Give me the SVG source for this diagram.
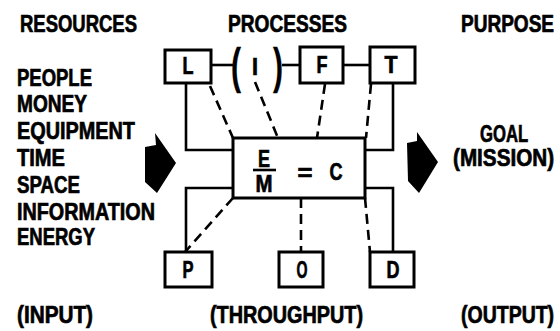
<svg xmlns="http://www.w3.org/2000/svg" width="560" height="331" viewBox="0 0 560 331">
<style>
text{font-family:"Liberation Sans",Arial,sans-serif;font-weight:bold;fill:#000;stroke:#000;stroke-width:0.7;font-size:23.5px}
.box{fill:#fff;stroke:#000;stroke-width:3}
.ln{fill:none;stroke:#000;stroke-width:2.6}
.ds{fill:none;stroke:#000;stroke-width:2.6;stroke-dasharray:10 6}
.c{text-anchor:middle}
.par{font-size:50px;stroke-width:0.3}
</style>
<rect width="560" height="331" fill="#fff"/>
<g id="headers">
<text x="20" y="32" textLength="117" lengthAdjust="spacingAndGlyphs">RESOURCES</text>
<text x="228" y="32" textLength="119" lengthAdjust="spacingAndGlyphs">PROCESSES</text>
<text transform="translate(461,32) scale(0.81,1)">PURPOSE</text>
</g>
<g id="resources">
<text x="17" y="86" textLength="75" lengthAdjust="spacingAndGlyphs">PEOPLE</text>
<text x="17" y="112" textLength="70" lengthAdjust="spacingAndGlyphs">MONEY</text>
<text x="17" y="139" textLength="118" lengthAdjust="spacingAndGlyphs">EQUIPMENT</text>
<text x="17" y="166" textLength="48" lengthAdjust="spacingAndGlyphs">TIME</text>
<text x="17" y="193" textLength="63" lengthAdjust="spacingAndGlyphs">SPACE</text>
<text x="17" y="220" textLength="138" lengthAdjust="spacingAndGlyphs">INFORMATION</text>
<text x="17" y="245" textLength="78" lengthAdjust="spacingAndGlyphs">ENERGY</text>
</g>
<g id="purpose">
<text transform="translate(480,142) scale(0.71,1)">GOAL</text>
<text transform="translate(453,166) scale(0.88,1)">(MISSION)</text>
</g>
<g id="footers">
<text x="17" y="323" textLength="76" lengthAdjust="spacingAndGlyphs">(INPUT)</text>
<text x="210" y="323" textLength="153" lengthAdjust="spacingAndGlyphs">(THROUGHPUT)</text>
<text transform="translate(461,323) scale(0.83,1)">(OUTPUT)</text>
</g>
<g id="arrows">
<polygon id="arrow-in" points="145,147 156,145 155,133 176,163 157,193 145,182"/>
<polygon id="arrow-out" points="407,143 417,141 417,132 438,162 419,193 408,181"/>
</g>
<g id="connectors">
<line class="ln" x1="211" y1="65" x2="233" y2="65"/>
<line class="ln" x1="282" y1="65" x2="300" y2="65"/>
<line class="ln" x1="343" y1="65" x2="370" y2="65"/>
<polyline class="ln" points="186,83 186,150 233,150"/>
<polyline class="ln" points="393,83 393,150 365,150"/>
<polyline class="ln" points="186,252 186,188 233,188"/>
<polyline class="ln" points="393,252 393,188 365,188"/>
<line class="ds" x1="210" y1="86" x2="233" y2="138"/>
<line class="ds" x1="255" y1="82" x2="278" y2="138"/>
<line class="ds" x1="325" y1="84" x2="317" y2="138"/>
<line class="ds" x1="371" y1="84" x2="366" y2="138"/>
<line class="ds" x1="233" y1="198" x2="185" y2="252"/>
<line class="ds" x1="301" y1="198" x2="301" y2="252"/>
<line class="ds" x1="365" y1="198" x2="370" y2="252"/>
</g>
<g id="node-L"><rect class="box" x="165" y="50" width="46" height="33"/><text class="c" x="188" y="74" textLength="11" lengthAdjust="spacingAndGlyphs">L</text></g>
<g id="node-I">
<text x="236" y="83" class="par c" textLength="10" lengthAdjust="spacingAndGlyphs">(</text>
<text class="c" x="255" y="75" textLength="6" lengthAdjust="spacingAndGlyphs">I</text>
<text x="278" y="83" class="par c" textLength="10" lengthAdjust="spacingAndGlyphs">)</text>
</g>
<g id="node-F"><rect class="box" x="300" y="47" width="43" height="36"/><text class="c" x="322" y="73" textLength="11" lengthAdjust="spacingAndGlyphs">F</text></g>
<g id="node-T"><rect class="box" x="370" y="47" width="45" height="36"/><text class="c" x="391" y="73" textLength="13" lengthAdjust="spacingAndGlyphs">T</text></g>
<g id="node-center">
<rect class="box" x="233" y="138" width="132" height="60"/>
<text class="c" x="264" y="167" textLength="12" lengthAdjust="spacingAndGlyphs">E</text>
<line class="ln" x1="253" y1="170" x2="276" y2="170"/>
<text class="c" x="264" y="192" textLength="17" lengthAdjust="spacingAndGlyphs">M</text>
<text class="c" x="305" y="181" textLength="15" lengthAdjust="spacingAndGlyphs">=</text>
<text class="c" x="336" y="180" textLength="13" lengthAdjust="spacingAndGlyphs">C</text>
</g>
<g id="node-P"><rect class="box" x="165" y="252" width="47" height="35"/><text class="c" x="188" y="278" textLength="11" lengthAdjust="spacingAndGlyphs">P</text></g>
<g id="node-O"><rect class="box" x="279" y="252" width="44" height="35"/><text class="c" x="302" y="278" textLength="11" lengthAdjust="spacingAndGlyphs">O</text></g>
<g id="node-D"><rect class="box" x="370" y="252" width="44" height="35"/><text class="c" x="393" y="278" textLength="13" lengthAdjust="spacingAndGlyphs">D</text></g>
</svg>
